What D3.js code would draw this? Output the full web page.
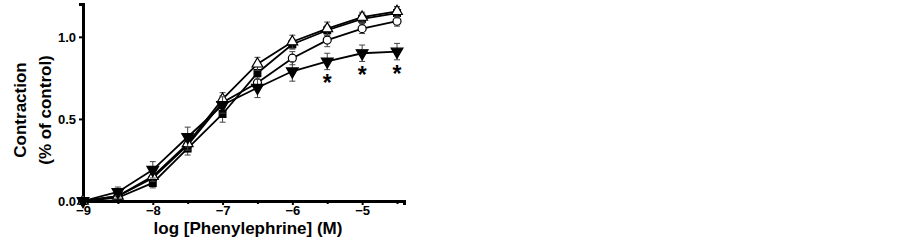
<!DOCTYPE html>
<html>
<head>
<meta charset="utf-8">
<script src="https://cdn.jsdelivr.net/npm/d3@7"></script>
<style>
  body { margin: 0; background: #fff; }
  text { font-family: "Liberation Sans", Arial, sans-serif; font-weight: bold; }
</style>
</head>
<body>
<div class="chart"></div>
<script>
// log concentrations
const logConc = [-9, -8.5, -8, -7.5, -7, -6.5, -6, -5.5, -5, -4.5];

const squareVals = [0, 0.02, 0.11, 0.32, 0.53, 0.78, 0.955, 1.04, 1.11, 1.145];
const squareErr  = [0.01, 0.02, 0.03, 0.04, 0.05, 0.04, 0.03, 0.03, 0.03, 0.03];
const triVals    = [0, 0.03, 0.15, 0.35, 0.62, 0.835, 0.97, 1.05, 1.12, 1.155];
const triErr     = [0.01, 0.02, 0.03, 0.04, 0.04, 0.04, 0.04, 0.04, 0.03, 0.03];
const circleVals = [0, 0.03, 0.14, 0.34, 0.60, 0.72, 0.87, 0.98, 1.05, 1.095];
const circleErr  = [0.01, 0.02, 0.03, 0.04, 0.04, 0.04, 0.04, 0.04, 0.03, 0.03];
const downVals   = [0, 0.055, 0.19, 0.39, 0.585, 0.69, 0.79, 0.85, 0.90, 0.91];
const downErr    = [0.01, 0.03, 0.05, 0.06, 0.05, 0.06, 0.06, 0.05, 0.05, 0.05];

const starAt = [-5.5, -5, -4.5];

const xTicks = [-9, -8, -7, -6, -5];
const xMinor = [-8.5, -7.5, -6.5, -5.5, -4.5];
const yTicks = [0, 0.5, 1.0];

const width = 903, height = 241;

const svg = d3.select('.chart').append('svg')
    .attr('width', width)
    .attr('height', height);

const x = d3.scaleLinear().domain([-9, -4.4]).range([83, 404]);
const y = d3.scaleLinear().domain([0, 1.2]).range([201, 4]);

// axes
const xAxis = svg.append('g')
    .attr('transform', `translate(0,${y(0)})`)
    .call(d3.axisBottom(x).tickValues(xTicks).tickSize(4).tickFormat(d3.format('d')));
svg.append('g')
    .attr('transform', `translate(0,${y(0)})`)
    .call(d3.axisBottom(x).tickValues(xMinor).tickSize(3).tickFormat(''))
    .select('.domain').remove();

const yAxis = svg.append('g')
    .attr('transform', `translate(${x(-9)},0)`)
    .call(d3.axisLeft(y).tickValues(yTicks).tickSize(4).tickFormat(d3.format('.1f')));

svg.selectAll('.domain').attr('stroke', '#000').attr('stroke-width', 3);
svg.selectAll('.tick line').attr('stroke', '#000').attr('stroke-width', 2);
xAxis.selectAll('text').attr('font-size', 13).attr('dy', '0.55em').attr('fill', '#000');
yAxis.selectAll('text').attr('font-size', 13).attr('fill', '#000');

// axis titles
svg.append('text')
    .attr('x', 248).attr('y', 234)
    .attr('text-anchor', 'middle')
    .attr('font-size', 17)
    .text('log [Phenylephrine] (M)');

svg.append('text')
    .attr('transform', 'translate(26,110) rotate(-90)')
    .attr('text-anchor', 'middle')
    .attr('font-size', 17)
    .text('Contraction');
svg.append('text')
    .attr('transform', 'translate(51,110) rotate(-90)')
    .attr('text-anchor', 'middle')
    .attr('font-size', 17)
    .text('(% of control)');

const series = [
    { vals: circleVals, err: circleErr, shape: d3.symbolCircle, size: 50, fill: '#fff' },
    { vals: squareVals, err: squareErr, shape: d3.symbolSquare, size: 45, fill: '#000' },
    { vals: triVals, err: triErr, shape: d3.symbolTriangle, size: 50, fill: '#fff' },
    { vals: downVals, err: downErr, shape: d3.symbolTriangle, size: 60, fill: '#000', flip: true }
];

const line = d3.line()
    .x(d => x(d[0]))
    .y(d => y(d[1]));

series.forEach(s => {
    const pts = logConc.map((c, i) => [c, s.vals[i], s.err[i]]);
    const g = svg.append('g');

    // error bars
    const eb = g.selectAll('.eb').data(pts).enter().append('g');
    eb.append('line')
        .attr('x1', d => x(d[0])).attr('x2', d => x(d[0]))
        .attr('y1', d => y(d[1] + d[2])).attr('y2', d => y(Math.max(0, d[1] - d[2])))
        .attr('stroke', '#444').attr('stroke-width', 1);
    eb.append('line')
        .attr('x1', d => x(d[0]) - 3).attr('x2', d => x(d[0]) + 3)
        .attr('y1', d => y(d[1] + d[2])).attr('y2', d => y(d[1] + d[2]))
        .attr('stroke', '#444').attr('stroke-width', 1);
    eb.append('line')
        .attr('x1', d => x(d[0]) - 3).attr('x2', d => x(d[0]) + 3)
        .attr('y1', d => y(Math.max(0, d[1] - d[2]))).attr('y2', d => y(Math.max(0, d[1] - d[2])))
        .attr('stroke', '#444').attr('stroke-width', 1);

    g.append('path')
        .datum(pts)
        .attr('fill', 'none')
        .attr('stroke', '#000')
        .attr('stroke-width', 1.8)
        .attr('d', line);

    g.selectAll('.pt').data(pts).enter().append('path')
        .attr('d', d3.symbol().type(s.shape).size(s.size))
        .attr('transform', d => `translate(${x(d[0])},${y(d[1])})` + (s.flip ? ' rotate(180)' : ''))
        .attr('fill', s.fill)
        .attr('stroke', '#000')
        .attr('stroke-width', 1.2);
});

// significance stars below the filled down-triangle series
svg.selectAll('.star').data(starAt).enter().append('text')
    .attr('x', d => x(d))
    .attr('y', d => y(downVals[logConc.indexOf(d)]) + 30)
    .attr('text-anchor', 'middle')
    .attr('font-size', 23)
    .text('*');
</script>
</body>
</html>
